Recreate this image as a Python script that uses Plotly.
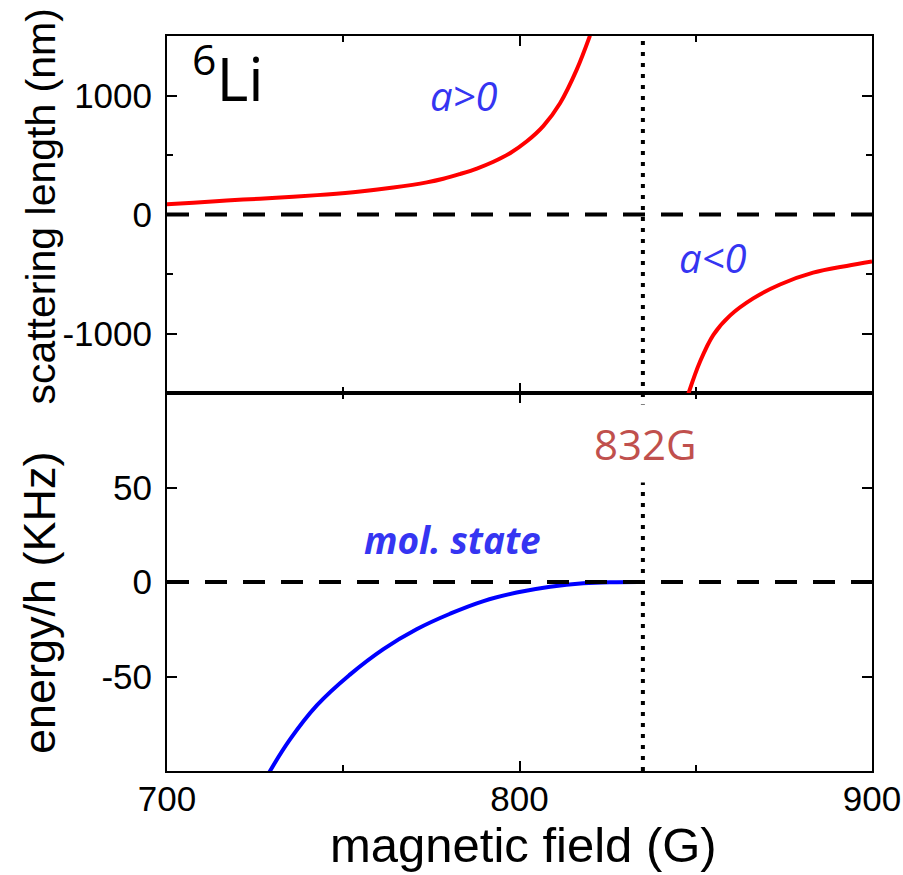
import plotly.graph_objects as go

# ---------------- data ----------------
# scattering length, a>0 branch (G, nm)
b_pos = [699.9, 707.5, 716.9, 726.4, 735.8, 745.3, 754.8, 764.2, 773.7, 778.4,
         783.1, 787.9, 792.6, 797.3, 802.0, 806.8, 811.5, 816.2, 820.0]
a_pos = [85, 99, 117, 133, 149, 169, 194, 227, 270, 300,
         340, 386, 443, 515, 613, 745, 935, 1215, 1503]
# scattering length, a<0 branch
b_neg = [847.9, 851.2, 855.0, 859.7, 866.3, 873.9, 883.3, 892.8, 900.0]
a_neg = [-1506, -1237, -1011, -850, -705, -588, -489, -432, -395]
# molecular state energy (G, kHz)
b_mol = [728.7, 734.9, 742.5, 751.9, 761.4, 770.8, 780.3, 789.8, 799.2, 808.7, 818.1, 827.6, 834.2]
e_mol = [-101.7, -83.3, -65.3, -49.0, -35.5, -25.0, -16.8, -10.1, -5.6, -2.5, -0.7, -0.1, 0.0]

b_res = 835          # resonance marker position
res_label = "832G"

x_ticks = [700, 800, 900]
x_ticktext = ["700", "800", "900"]
y_top_ticks = [-1000, 0, 1000]
y_top_ticktext = ["-1000", "0", "1000"]
y_top_minor = [-500, 500]
y_bot_ticks = [-50, 0, 50]
y_bot_ticktext = ["-50", "0", "50"]

# ---------------- figure ----------------
fig = go.Figure()
red_line = dict(color="#FF0000", width=4, shape="spline", smoothing=1.0)
fig.add_trace(go.Scatter(x=b_pos, y=a_pos, mode="lines", xaxis="x2", yaxis="y2",
                         line=red_line, showlegend=False, hoverinfo="skip"))
fig.add_trace(go.Scatter(x=b_neg, y=a_neg, mode="lines", xaxis="x2", yaxis="y2",
                         line=red_line, showlegend=False, hoverinfo="skip"))
fig.add_trace(go.Scatter(x=b_mol, y=e_mol, mode="lines", xaxis="x", yaxis="y",
                         line=dict(color="#0000FF", width=4, shape="spline", smoothing=1.2),
                         showlegend=False, hoverinfo="skip"))

sans = "Liberation Sans, Arial, sans-serif"
tickfont = dict(family=sans, size=35, color="black")
axis_common = dict(showline=True, linewidth=2, linecolor="black", mirror="allticks",
                   ticks="inside", ticklen=10, tickwidth=2, tickcolor="black",
                   showgrid=False, zeroline=False, tickfont=tickfont, automargin=False)
minor_x = dict(dtick=50, ticklen=6, tickwidth=2, ticks="inside", tickcolor="black", showgrid=False)

split = 378 / 735

fig.update_layout(
    template="none",
    width=903, height=875,
    margin=dict(l=167, r=31, t=36, b=104),
    plot_bgcolor="white", paper_bgcolor="white",
    showlegend=False,
    xaxis=dict(domain=[0, 1], anchor="y", range=[700, 900], tickvals=x_ticks, ticktext=x_ticktext,
               minor=minor_x, ticklabelstandoff=-4, ticklabeloverflow="allow", **axis_common),
    xaxis2=dict(domain=[0, 1], anchor="y2", range=[700, 900], matches="x", tickvals=x_ticks,
                showticklabels=False, minor=minor_x, **axis_common),
    yaxis=dict(domain=[0, split], anchor="x", range=[-100, 100], tickvals=y_bot_ticks,
               ticktext=y_bot_ticktext, ticklabelstandoff=6, **axis_common),
    yaxis2=dict(domain=[split, 1], anchor="x2", range=[-1500, 1500], tickvals=y_top_ticks,
                ticktext=y_top_ticktext,
                minor=dict(tickvals=y_top_minor, ticklen=6, tickwidth=2, ticks="inside",
                           tickcolor="black", showgrid=False),
                ticklabelstandoff=6, **axis_common),
)

# dashed zero lines
fig.add_shape(type="line", xref="x2 domain", yref="y2", x0=0, x1=1, y0=0, y1=0,
              line=dict(color="black", width=4, dash="22px,16px"))
fig.add_shape(type="line", xref="x domain", yref="y", x0=0, x1=1, y0=0, y1=0,
              line=dict(color="black", width=4, dash="22px,16px"))
# dotted resonance line across both panels
fig.add_shape(type="line", xref="x", yref="paper", x0=b_res, x1=b_res, y0=0, y1=1,
              line=dict(color="black", width=4, dash="4px,7px"))

ann_font = "Open Sans, Noto Sans, sans-serif"
blue_txt = "#3535F2"


def ann(x, y, text, font, **kw):
    fig.add_annotation(x=x, y=y, xref="paper", yref="paper", showarrow=False,
                       xanchor=kw.pop("xanchor", "center"), yanchor=kw.pop("yanchor", "middle"),
                       text=text, font=font, **kw)


ann(0.0326, 0.948, "<sup>6</sup>Li", dict(family=ann_font, size=61, color="black"), xanchor="left")
ann(0.4213, 0.919, "<i>a>0</i>", dict(family=ann_font, size=40, color=blue_txt))
ann(0.7745, 0.699, "<i>a<0</i>", dict(family=ann_font, size=40, color=blue_txt))
ann(0.6794, 0.445, res_label, dict(family=ann_font, size=42, color="#C0504D"),
    bgcolor="white", borderpad=10)
ann(0.4043, 0.3156, "<b><i>mol. state</i></b>", dict(family=ann_font, size=37, color=blue_txt))

ann(-0.180, 0.768, "scattering length (nm)", dict(family=sans, size=41, color="black"), textangle=-90)
ann(-0.180, 0.2286, "energy/h (KHz)", dict(family=sans, size=45, color="black"), textangle=-90)
ann(0.505, -0.1007, "magnetic field (G)", dict(family=sans, size=49, color="black"))

fig.write_html("out.html")
